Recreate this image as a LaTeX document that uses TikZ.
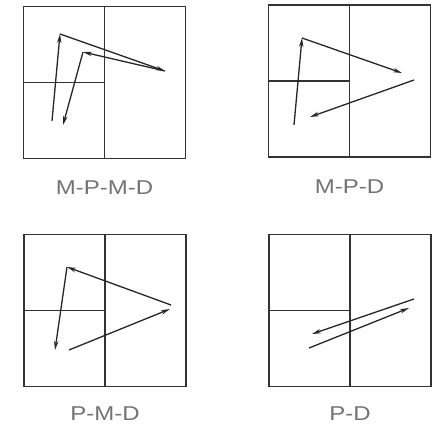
\documentclass[tikz,border=0pt]{standalone}
\usepackage{fontspec}
\setmainfont{Liberation Sans}
\usetikzlibrary{arrows.meta, positioning}

\begin{document}
\begin{tikzpicture}[
  x=1pt, y=-1pt,
  panel/.style={draw=black!80, line width=1.8pt, outer sep=0pt, minimum width=162pt, minimum height=152pt},
  divider/.style={draw=black!80, line width=1.6pt},
  flow/.style={draw=black!85, line width=1.3pt, -{Stealth[length=9pt, width=4.5pt]}},
  caption/.style={text=black!55, font=\fontsize{20}{22}\selectfont},
]

\useasboundingbox (0,0) rectangle (434,430);

% M-P-M-D
\node [panel] (mpmd) at (104.5,82.5) {};
\draw [divider] (mpmd.north) -- (mpmd.south);
\draw [divider] (mpmd.west) -- (mpmd.center);
\coordinate (mpmd1) at (52,121);
\coordinate (mpmd2) at (60,34);
\coordinate (mpmd3) at (165,71);
\coordinate (mpmd4) at (83,52);
\coordinate (mpmd5) at (63,125);
\draw [flow] (mpmd1) -- (mpmd2);
\draw [flow] (mpmd2) -- (mpmd3);
\draw [flow] (mpmd3) -- (mpmd4);
\draw [flow] (mpmd4) -- (mpmd5);
\node [caption, below=19pt of mpmd] (mpmd_label) {\scalebox{1.2}[1]{M-P-M-D}};

% M-P-D
\node [panel] (mpd) at (349.5,81) {};
\draw [divider] (mpd.north) -- (mpd.south);
\draw [divider] (mpd.west) -- (mpd.center);
\coordinate (mpd1) at (294,125);
\coordinate (mpd2) at (302,38);
\coordinate (mpd3) at (402,73);
\coordinate (mpd4) at (414,80);
\coordinate (mpd5) at (310,117);
\draw [flow] (mpd1) -- (mpd2);
\draw [flow] (mpd2) -- (mpd3);
\draw [flow] (mpd4) -- (mpd5);
\node [caption, below=19pt of mpd] (mpd_label) {\scalebox{1.2}[1]{M-P-D}};

% P-M-D
\node [panel] (pmd) at (105,310.5) {};
\draw [divider] (pmd.north) -- (pmd.south);
\draw [divider] (pmd.west) -- (pmd.center);
\coordinate (pmd1) at (69,350);
\coordinate (pmd2) at (170,309);
\coordinate (pmd3) at (171,305);
\coordinate (pmd4) at (67,267);
\coordinate (pmd5) at (55,350);
\draw [flow] (pmd1) -- (pmd2);
\draw [flow] (pmd3) -- (pmd4);
\draw [flow] (pmd4) -- (pmd5);
\node [caption, below=17pt of pmd] (pmd_label) {\scalebox{1.2}[1]{P-M-D}};

% P-D
\node [panel] (pd) at (350,310.5) {};
\draw [divider] (pd.north) -- (pd.south);
\draw [divider] (pd.west) -- (pd.center);
\coordinate (pd1) at (414,299);
\coordinate (pd2) at (312,334);
\coordinate (pd3) at (309,348);
\coordinate (pd4) at (409,308);
\draw [flow] (pd1) -- (pd2);
\draw [flow] (pd3) -- (pd4);
\node [caption, below=17pt of pd] (pd_label) {\scalebox{1.2}[1]{P-D}};

\end{tikzpicture}
\end{document}
